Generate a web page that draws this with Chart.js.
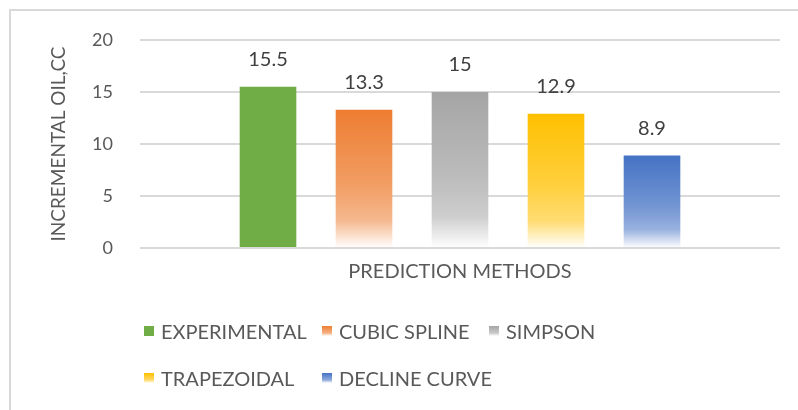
<!DOCTYPE html>
<html>
<head>
<meta charset="utf-8">
<script src="https://cdn.jsdelivr.net/npm/chart.js@4"></script>
<style>
  html, body { margin: 0; padding: 0; background: #fff; }
  #wrap { position: relative; width: 798px; height: 410px; overflow: hidden; }
  #frame { position: absolute; left: 9px; top: 9px; width: 800px; height: 420px;
           border: 2px solid #d9d9d9; box-sizing: border-box; }
  #legend { position: absolute; left: 144px; top: 319px; font-family: Lato, "Open Sans", sans-serif;
            font-size: 20px; color: #595959; }
  .item { position: absolute; display: flex; align-items: center; white-space: nowrap; }
  .box { width: 10px; height: 10px; margin-right: 7px; flex: none; }
</style>
</head>
<body>
<div id="wrap">
  <div id="frame"></div>
  <canvas id="chart" width="798" height="410"></canvas>
  <div id="legend"></div>
</div>
<script>
const methods = ['EXPERIMENTAL', 'CUBIC SPLINE', 'SIMPSON', 'TRAPEZOIDAL', 'DECLINE CURVE'];
const values = [15.5, 13.3, 15, 12.9, 8.9];
const colors = ['#70ad47', '#ed7d31', '#a5a5a5', '#ffc000', '#4472c4'];
const fades = [false, true, true, true, true];
const yTicks = [0, 5, 10, 15, 20];

// legend slots (column x, row y)
const legendPos = [[0, 0], [178, 0], [345, 0], [0, 47], [178, 47]];

const FONT = 'Lato, "Open Sans", sans-serif';

function tint(hex, t) {
  const n = parseInt(hex.slice(1), 16);
  const r = n >> 16, g = (n >> 8) & 255, b = n & 255;
  const m = v => Math.round(v + (255 - v) * t);
  return `rgb(${m(r)}, ${m(g)}, ${m(b)})`;
}

function barFill(i) {
  return (ctx) => {
    const chart = ctx.chart;
    if (!fades[i] || !chart.chartArea) return colors[i];
    const y = chart.scales.y;
    const top = y.getPixelForValue(values[i]);
    const bottom = y.getPixelForValue(0);
    const g = chart.ctx.createLinearGradient(0, top, 0, bottom);
    g.addColorStop(0, colors[i]);
    g.addColorStop(0.55, tint(colors[i], 0.25));
    g.addColorStop(0.8, tint(colors[i], 0.45));
    g.addColorStop(1, '#ffffff');
    return g;
  };
}

const valueLabels = {
  id: 'valueLabels',
  afterDatasetsDraw(chart) {
    const c = chart.ctx;
    c.save();
    c.font = '20px ' + FONT;
    c.fillStyle = '#404040';
    c.textAlign = 'center';
    c.textBaseline = 'middle';
    chart.data.datasets.forEach((ds, i) => {
      const bar = chart.getDatasetMeta(i).data[0];
      c.fillText(String(ds.data[0]), bar.x, bar.y - 27);
    });
    c.restore();
  }
};

new Chart(document.getElementById('chart'), {
  type: 'bar',
  data: {
    labels: [''],
    datasets: methods.map((m, i) => ({
      label: m,
      data: [values[i]],
      backgroundColor: barFill(i),
      borderWidth: 0,
      categoryPercentage: 0.75,
      barPercentage: 0.59
    }))
  },
  options: {
    responsive: false,
    animation: false,
    layout: { padding: { left: 47, right: 18, top: 40, bottom: 122 } },
    scales: {
      x: {
        grid: { display: false },
        border: { display: false },
        ticks: { display: false },
        title: { display: true, text: 'PREDICTION METHODS', color: '#595959',
                 font: { family: FONT, size: 20 }, padding: { top: 5 } },
        afterFit: s => { s.height = 40; }
      },
      y: {
        min: 0, max: 20,
        afterBuildTicks: s => { s.ticks = yTicks.map(v => ({ value: v })); },
        grid: { color: '#d9d9d9', lineWidth: 2, drawTicks: false },
        border: { display: false },
        ticks: { color: '#595959', padding: 27, font: { family: FONT, size: 18 } },
        title: { display: true, text: 'INCREMENTAL OIL,CC', color: '#595959', padding: 0,
                 font: { family: FONT, size: 19 } },
        afterFit: s => { s.width = 93; }
      }
    },
    plugins: { legend: { display: false }, tooltip: { enabled: false } }
  },
  plugins: [valueLabels]
});

// legend in a fixed two-row grid
const legend = document.getElementById('legend');
methods.forEach((m, i) => {
  const item = document.createElement('div');
  item.className = 'item';
  item.style.left = legendPos[i][0] + 'px';
  item.style.top = legendPos[i][1] + 'px';
  const box = document.createElement('span');
  box.className = 'box';
  box.style.background = fades[i]
    ? `linear-gradient(${colors[i]}, ${tint(colors[i], 0.4)} 70%, #fff)`
    : colors[i];
  const text = document.createElement('span');
  text.textContent = m;
  item.appendChild(box);
  item.appendChild(text);
  legend.appendChild(item);
});
</script>
</body>
</html>
